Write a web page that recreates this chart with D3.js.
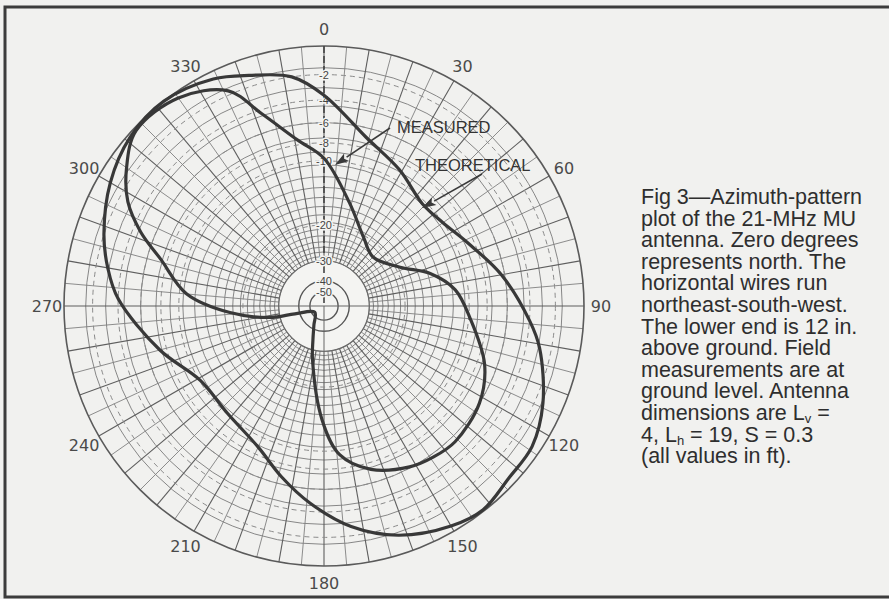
<!DOCTYPE html>
<html>
<head>
<meta charset="utf-8">
<script src="https://cdn.jsdelivr.net/npm/d3@7"></script>
<style>
body { margin: 0; background: #f1f1ef; }
svg { display: block; }
</style>
</head>
<body>
<script>
// azimuth pattern, bearing in degrees (0 = north, clockwise), level in dB
var theoAngle = [0, 14, 29, 44, 55, 66, 80, 94, 101, 114, 124, 133, 142, 150, 162, 173, 184, 194, 205, 222, 239, 255, 272, 280, 288, 300, 311, 322, 334, 342, 352];
var theoDb    = [-3.6, -6.9, -8.8, -10.4, -10.0, -8.7, -6.3, -4.0, -2.9, -1.4, -0.6, -0.5, -0.1, -0.4, -1.3, -2.7, -4.7, -6.7, -8.8, -10.1, -10.1, -7.3, -4.0, -2.9, -2.0, -0.9, -0.2, 0, -0.5, -1.2, -2.0];

var measAngle = [0, 14, 30, 45, 63, 73, 83, 95, 110, 122, 136, 144, 152, 164, 174, 181, 192, 198, 208, 236, 255, 258, 266, 275, 286, 292, 298, 305, 313, 325, 336, 342, 351];
var measDb    = [-9.7, -15.4, -20.4, -22.7, -19.1, -14.6, -11.6, -9.8, -7.2, -6.0, -5.5, -5.7, -6.1, -7.3, -9.5, -14.2, -26.6, -34, -42.8, -54, -37, -26.6, -17.4, -10.9, -7.3, -4.7, -2.7, -1.3, -0.2, -0.4, -1.7, -4.3, -7.5];

// axis labels
var bearingTicks = [0, 30, 60, 90, 120, 150, 180, 210, 240, 270, 300, 330];
var dbTicks = [-2, -4, -6, -8, -10, -20, -30, -40, -50];
var dashedRings = [-2, -4, -6, -8, -10, -20];

var caption = [
    "Fig 3\u2014Azimuth-pattern",
    "plot of the 21-MHz MU",
    "antenna. Zero degrees",
    "represents north. The",
    "horizontal wires run",
    "northeast-south-west.",
    "The lower end is 12 in.",
    "above ground. Field",
    "measurements are at",
    "ground level. Antenna",
    ["dimensions are L", "v", " ="],
    ["4, L", "h", " = 19, S = 0.3"],
    "(all values in ft)."
];

var w = 889, h = 599;
var cx = 324, cy = 306, R = 260;

window.onload = function(){
    var svg = d3.select("body").append("svg")
        .attr("width", w)
        .attr("height", h);

    svg.append("rect") //page
        .attr("width", w).attr("height", h)
        .attr("fill", "#f1f1ef");

    // log-periodic radius: amplitude ratio ^ ~0.506 (each 2 dB = 0.89)
    var rScale = d3.scalePow().exponent(0.5061).domain([0, 1]).range([0, R]);
    var r = function(db){ return rScale(Math.pow(10, db / 20)); };

    var g = svg.append("g").attr("transform", "translate(" + cx + "," + cy + ")");

    // conformal grid: rings one 5-degree step apart in ln(r), down to -30 dB
    var step = Math.PI / 36 / Math.log(10) * 20 / 0.5061; // dB per ring
    var rings = d3.range(0, 21).map(function(k){ return -k * step; });
    var r30 = r(-30);

    g.selectAll(".ring")
        .data(rings.slice(1))
        .enter().append("circle")
        .attr("class", "ring")
        .attr("r", function(d){ return r(d); })
        .attr("fill", "none")
        .attr("stroke", "#7a7a7a")
        .attr("stroke-width", 0.9);

    var spokes = d3.range(0, 360, 5);
    g.selectAll(".spoke")
        .data(spokes)
        .enter().append("line")
        .attr("class", "spoke")
        .attr("x1", function(d){ return r30 * Math.sin(d * Math.PI / 180); })
        .attr("y1", function(d){ return -r30 * Math.cos(d * Math.PI / 180); })
        .attr("x2", function(d){ return R * Math.sin(d * Math.PI / 180); })
        .attr("y2", function(d){ return -R * Math.cos(d * Math.PI / 180); })
        .attr("stroke", function(d){ return d % 10 === 0 ? "#5e5e5e" : "#808080"; })
        .attr("stroke-width", function(d){ return d % 10 === 0 ? 1.1 : 0.9; });

    // blank middle with -40/-50 circles and crosshair
    g.append("circle").attr("r", r30 - 0.5).attr("fill", "#f4f4f2");
    g.append("circle").attr("r", r30).attr("fill", "none").attr("stroke", "#6a6a6a").attr("stroke-width", 1.2);
    [-40, -50].forEach(function(d){
        g.append("circle").attr("r", r(d)).attr("fill", "none")
            .attr("stroke", "#555").attr("stroke-width", 1.4);
    });
    g.append("line").attr("x1", -r30).attr("x2", r30).attr("stroke", "#666").attr("stroke-width", 1);
    g.append("line").attr("y1", 0).attr("y2", r30).attr("stroke", "#666").attr("stroke-width", 1);

    g.selectAll(".dring")
        .data(dashedRings)
        .enter().append("circle")
        .attr("class", "dring")
        .attr("r", function(d){ return r(d); })
        .attr("fill", "none")
        .attr("stroke", "#8a8a8a")
        .attr("stroke-width", 1)
        .attr("stroke-dasharray", "5,4");

    // outer rim
    g.append("circle").attr("r", R).attr("fill", "none")
        .attr("stroke", "#5a5a5a").attr("stroke-width", 1.6);

    // 0-degree axis, dashed, carries the dB scale
    g.append("line").attr("y1", -R).attr("y2", 0)
        .attr("stroke", "#444").attr("stroke-width", 1.6)
        .attr("stroke-dasharray", "7,3");

    g.selectAll(".dblab")
        .data(dbTicks)
        .enter().append("text")
        .attr("class", "dblab")
        .attr("x", 0)
        .attr("y", function(d){ return -r(d) + 4; })
        .attr("text-anchor", "middle")
        .style("font-family", "Liberation Sans, Arial, sans-serif")
        .style("font-size", "11px")
        .style("fill", "#444")
        .style("stroke", "#f4f4f2")
        .style("stroke-width", 3)
        .style("paint-order", "stroke")
        .text(function(d){ return d; });

    // bearing labels
    var labR = 277;
    g.selectAll(".blab")
        .data(bearingTicks)
        .enter().append("text")
        .attr("class", "blab")
        .attr("x", function(d){ return labR * Math.sin(d * Math.PI / 180); })
        .attr("y", function(d){ return -labR * Math.cos(d * Math.PI / 180) + 6; })
        .attr("text-anchor", "middle")
        .style("font-family", "DejaVu Sans, sans-serif")
        .style("font-size", "16px")
        .style("fill", "#4a4a4a")
        .text(function(d){ return d; });

    // patterns
    var line = d3.lineRadial()
        .angle(function(d){ return d[0] * Math.PI / 180; })
        .radius(function(d){ return r(d[1]); })
        .curve(d3.curveCatmullRomClosed.alpha(0.5));

    var theo = d3.zip(theoAngle, theoDb);
    var meas = d3.zip(measAngle, measDb);

    g.append("path").datum(theo)
        .attr("d", line)
        .attr("fill", "none").attr("stroke", "#383838").attr("stroke-width", 3.2);
    g.append("path").datum(meas)
        .attr("d", line)
        .attr("fill", "none").attr("stroke", "#383838").attr("stroke-width", 3.2);

    // callouts
    var callouts = [
        {text: "MEASURED", tx: 397, ty: 133, from: [390, 128], to: [335, 165]},
        {text: "THEORETICAL", tx: 415, ty: 171, from: [482, 174], to: [422, 208]}
    ];
    callouts.forEach(function(c){
        svg.append("text")
            .attr("x", c.tx).attr("y", c.ty)
            .style("font-family", "Liberation Sans Narrow, Liberation Sans, Arial, sans-serif")
            .style("font-size", "16.5px")
            .style("fill", "#333")
            .text(c.text);
        var dx = c.to[0] - c.from[0], dy = c.to[1] - c.from[1];
        var len = Math.sqrt(dx * dx + dy * dy), ux = dx / len, uy = dy / len;
        var bx = c.to[0] - ux * 14, by = c.to[1] - uy * 14;
        svg.append("line")
            .attr("x1", c.from[0]).attr("y1", c.from[1])
            .attr("x2", bx).attr("y2", by)
            .attr("stroke", "#3a3a3a").attr("stroke-width", 1.6);
        svg.append("path")
            .attr("d", "M" + c.to[0] + "," + c.to[1] +
                "L" + (bx - uy * 4.5) + "," + (by + ux * 4.5) +
                "L" + (bx + ux * 3) + "," + (by + uy * 3) +
                "L" + (bx + uy * 4.5) + "," + (by - ux * 4.5) + "Z")
            .attr("fill", "#3a3a3a");
    });

    // caption, one text per line
    caption.forEach(function(ln, i){
        var t = svg.append("text")
            .attr("class", "caption")
            .attr("x", 641).attr("y", 204 + i * 21.6)
            .style("font-family", "Liberation Sans, Arial, sans-serif")
            .style("font-size", "21.5px")
            .style("fill", "#2e2e2e");
        if (typeof ln === "string") { t.text(ln); return; }
        t.append("tspan").text(ln[0]);
        t.append("tspan").attr("dy", 3).style("font-size", "13px").text(ln[1]);
        t.append("tspan").attr("dy", -3).text(ln[2]);
    });

    // page frame
    svg.append("path")
        .attr("d", "M892,7 L5,7 L5,597 L892,597")
        .attr("fill", "none")
        .attr("stroke", "#3c3c3c")
        .attr("stroke-width", 3);
};
</script>
</body>
</html>
